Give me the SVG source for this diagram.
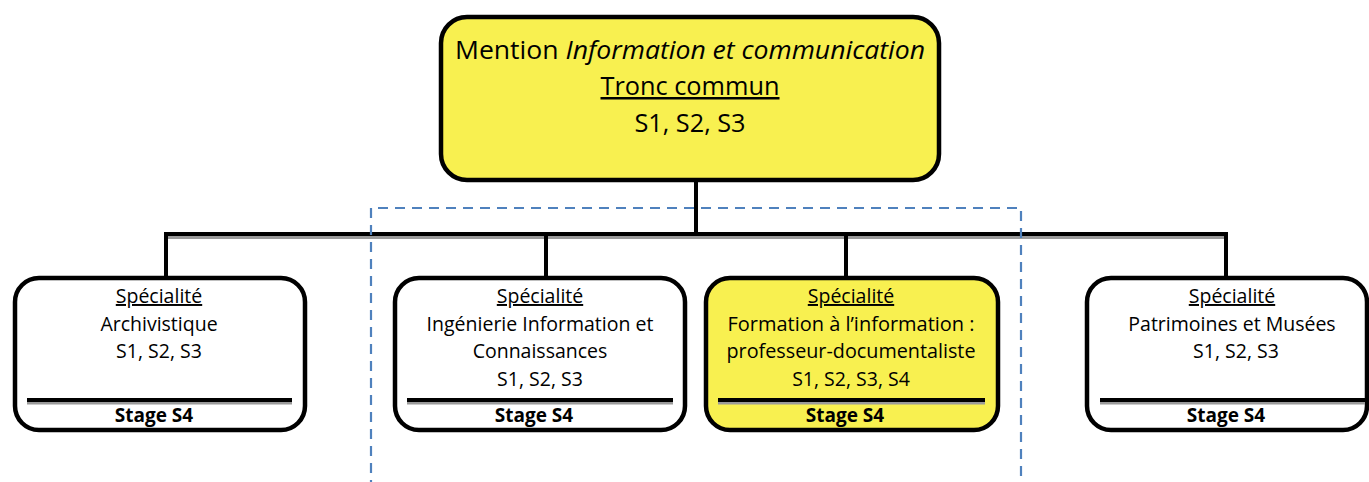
<svg xmlns="http://www.w3.org/2000/svg" width="1369" height="482" viewBox="0 0 1369 482">
<style>
.box{stroke:#000;stroke-width:4.5;}
.w{fill:#fff;}
.y{fill:#F8F050;}
.t{font-family:"Open Sans","Liberation Sans",sans-serif;font-size:19.5px;fill:#000;text-anchor:middle;}
.big{font-size:25px;}
.b{font-weight:bold;font-size:19px;}
.u{text-decoration:underline;}
.sep{stroke:#000;stroke-width:4;}
.sh{stroke:#9a9a9a;stroke-width:3;}
.con{stroke:#000;stroke-width:4;fill:none;}
</style>
<rect x="0" y="0" width="1369" height="482" fill="#fff"/>
<g id="connectors">
<line x1="165" y1="237.5" x2="1228" y2="237.5" class="sh"/>
<line x1="696" y1="180" x2="696" y2="234" class="con"/>
<polyline points="166,278 166,234 1226,234 1226,278" class="con"/>
<line x1="546" y1="234" x2="546" y2="278" class="con"/>
<line x1="846" y1="234" x2="846" y2="278" class="con"/>
</g>
<g id="dashed-frame">
<path d="M371,490 L371,208 L1021,208 L1021,490" fill="none" stroke="#4F81BD" stroke-width="2.2" stroke-dasharray="10,7"/>
</g>
<g id="top">
<rect x="441" y="17" width="498" height="163" rx="26" class="box y" stroke-width="5"/>
<text x="690" y="59" class="t big" textLength="470" lengthAdjust="spacingAndGlyphs">Mention <tspan font-style="italic">Information et communication</tspan></text>
<text x="690" y="95" class="t big u" textLength="179" lengthAdjust="spacingAndGlyphs">Tronc commun</text>
<text x="690" y="132" class="t big" textLength="111" lengthAdjust="spacingAndGlyphs">S1, S2, S3</text>
</g>
<g id="archivistique">
<rect x="15" y="278" width="290" height="152" rx="24" class="box w"/>
<line x1="27" y1="403" x2="292" y2="403" class="sh"/>
<line x1="27" y1="400" x2="292" y2="400" class="sep"/>
<text x="159" y="303" class="t u">Spécialité</text>
<text x="159" y="331" class="t">Archivistique</text>
<text x="159" y="358" class="t">S1, S2, S3</text>
<text x="154" y="422" class="t b">Stage S4</text>
</g>
<g id="ingenierie">
<rect x="395" y="278" width="290" height="152" rx="24" class="box w"/>
<line x1="407" y1="403" x2="673" y2="403" class="sh"/>
<line x1="407" y1="400" x2="673" y2="400" class="sep"/>
<text x="540" y="303" class="t u">Spécialité</text>
<text x="540" y="331" class="t">Ingénierie Information et</text>
<text x="540" y="358" class="t">Connaissances</text>
<text x="540" y="386" class="t">S1, S2, S3</text>
<text x="534" y="422" class="t b">Stage S4</text>
</g>
<g id="formation">
<rect x="706" y="278" width="292" height="152" rx="24" class="box y"/>
<line x1="718" y1="403" x2="985" y2="403" class="sh"/>
<line x1="718" y1="400" x2="985" y2="400" class="sep"/>
<text x="851" y="303" class="t u">Spécialité</text>
<text x="851" y="331" class="t" textLength="247" lengthAdjust="spacingAndGlyphs">Formation à l’information :</text>
<text x="851" y="358" class="t" textLength="249" lengthAdjust="spacingAndGlyphs">professeur-documentaliste</text>
<text x="851" y="386" class="t">S1, S2, S3, S4</text>
<text x="845" y="422" class="t b">Stage S4</text>
</g>
<g id="patrimoines">
<rect x="1087" y="278" width="280" height="152" rx="24" class="box w"/>
<line x1="1100" y1="403" x2="1365" y2="403" class="sh"/>
<line x1="1100" y1="400" x2="1365" y2="400" class="sep"/>
<text x="1232" y="303" class="t u">Spécialité</text>
<text x="1232" y="331" class="t">Patrimoines et Musées</text>
<text x="1236" y="358" class="t">S1, S2, S3</text>
<text x="1226" y="422" class="t b">Stage S4</text>
</g>
</svg>
